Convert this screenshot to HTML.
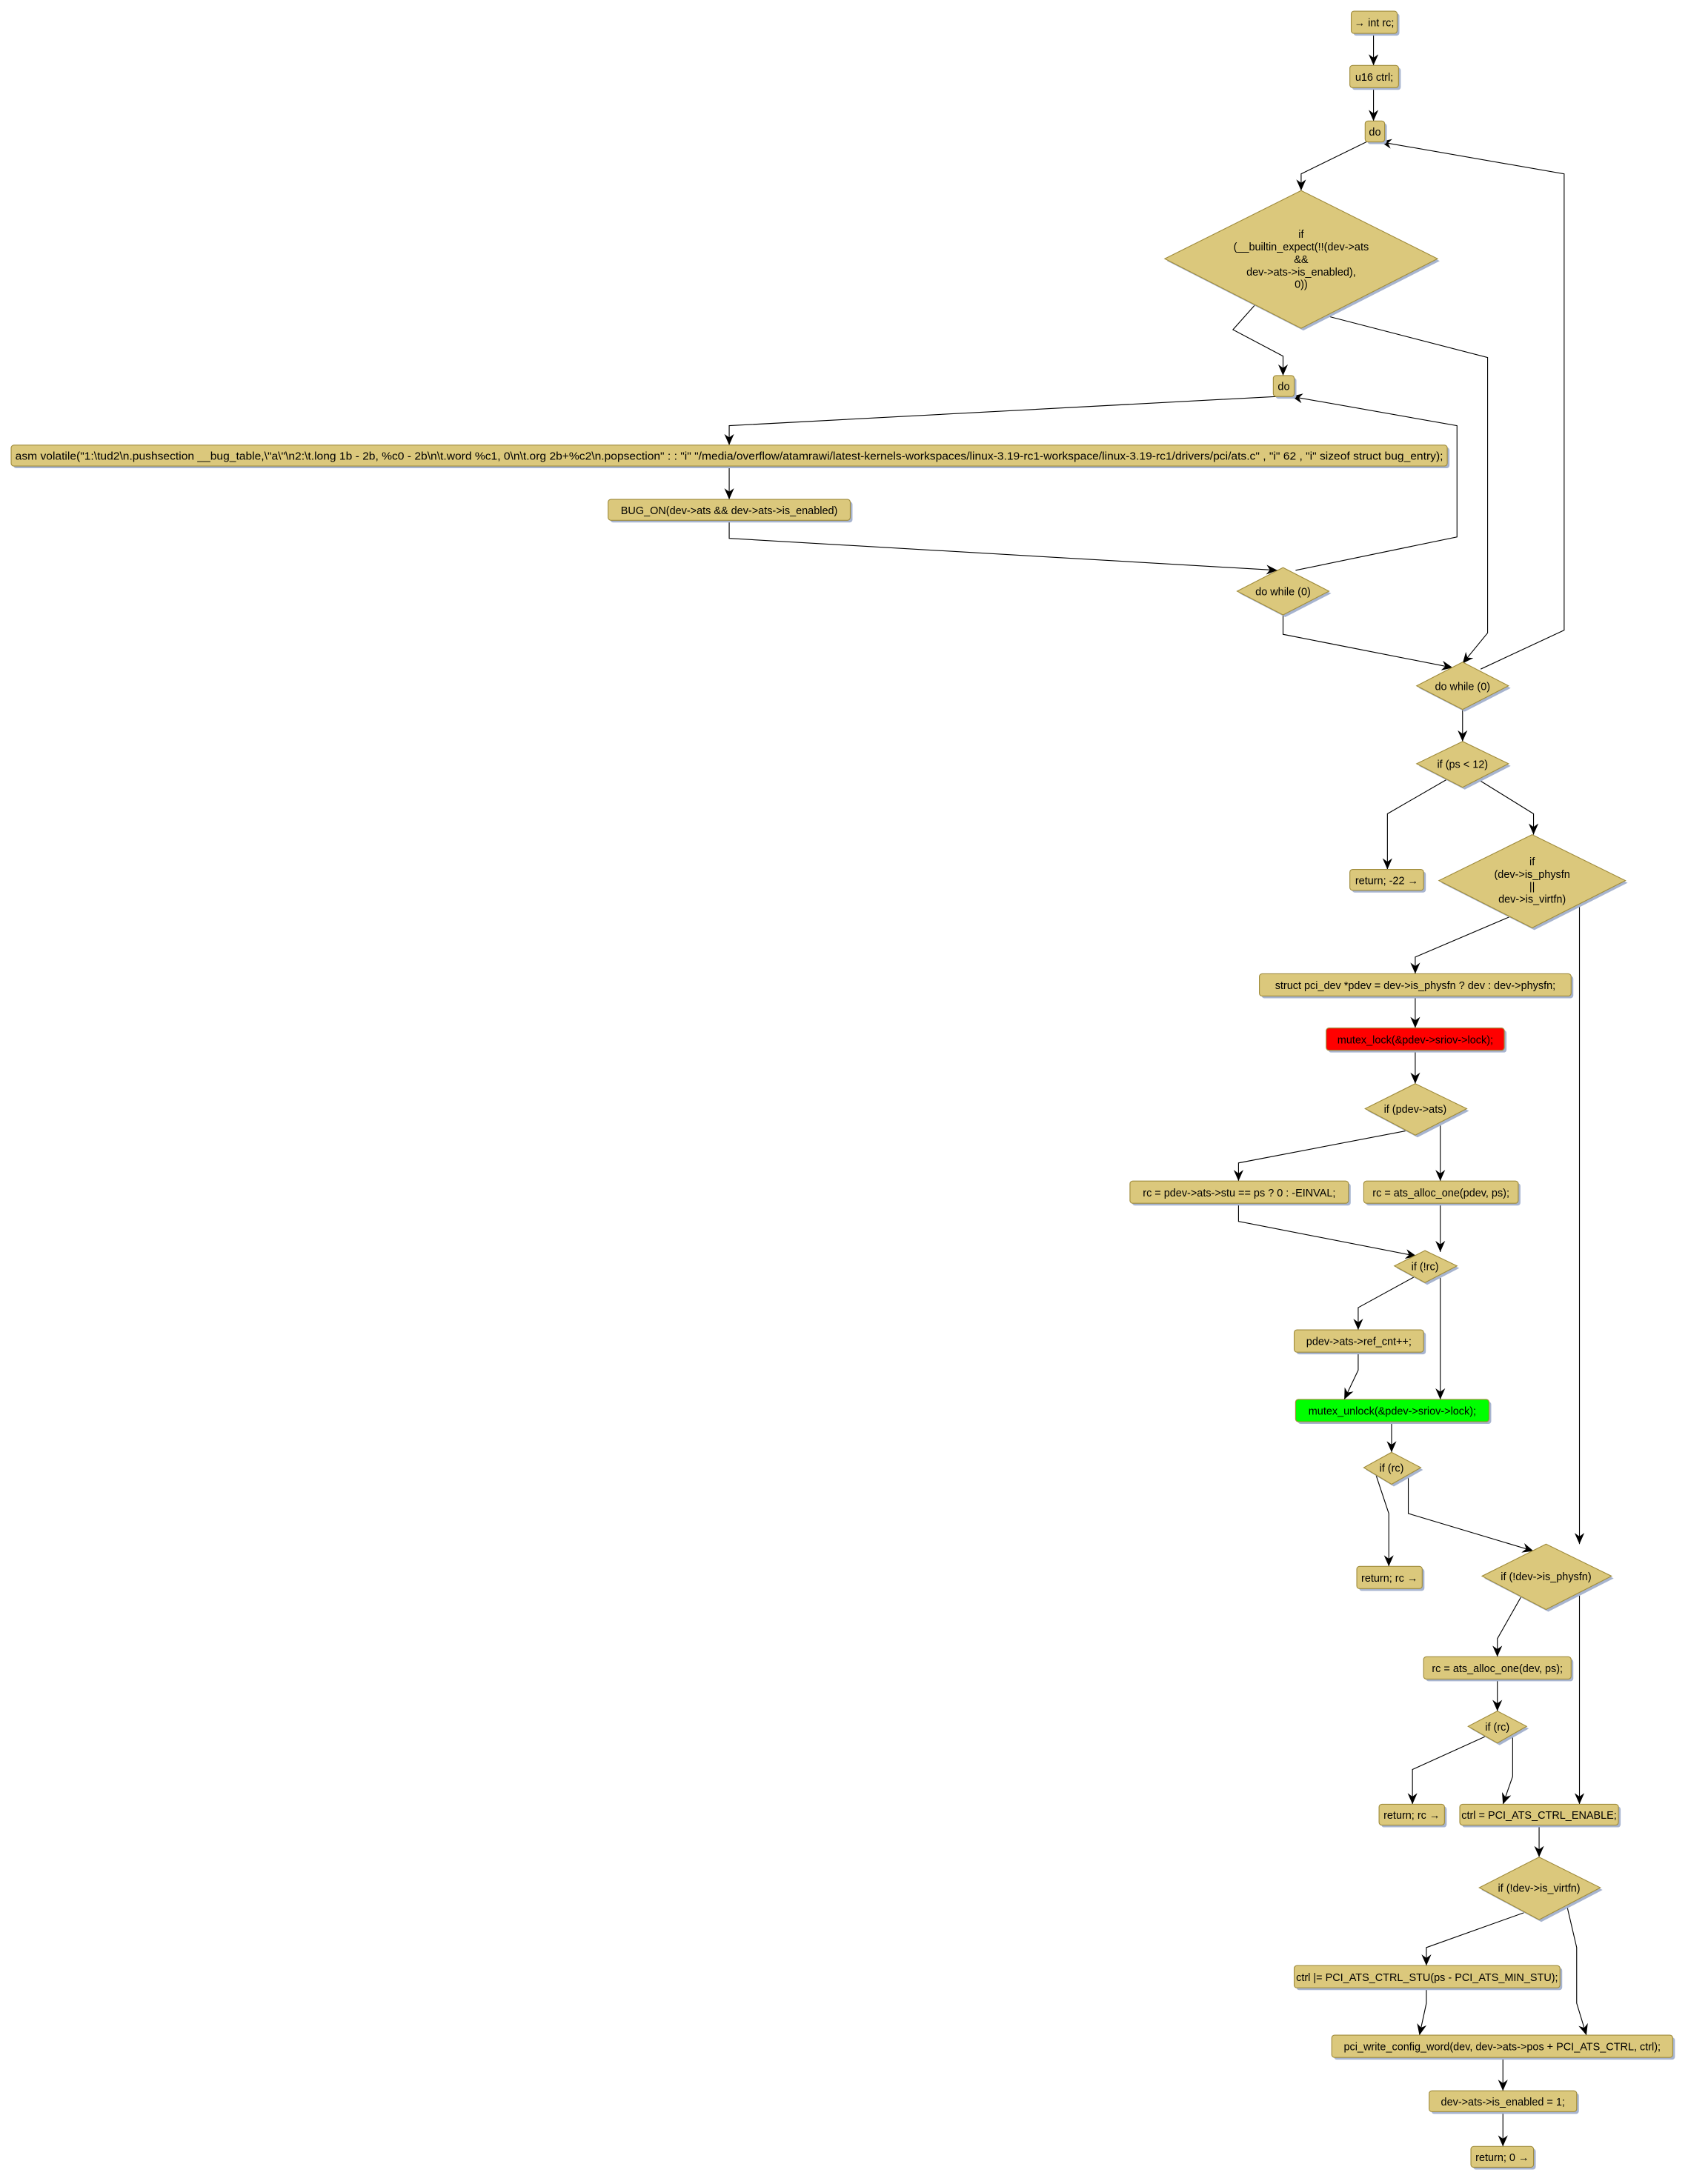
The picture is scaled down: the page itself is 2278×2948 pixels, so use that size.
<!DOCTYPE html>
<html><head><meta charset="utf-8"><style>html,body{margin:0;padding:0;background:#fff}svg{display:block}</style></head><body>
<svg width="2278" height="2948" viewBox="0 0 1213 1570" preserveAspectRatio="none" xmlns="http://www.w3.org/2000/svg" font-family="'Liberation Sans', sans-serif" font-size="7.7">
<defs>
<marker id="a" markerWidth="9" markerHeight="8" refX="8" refY="3.5" orient="auto" markerUnits="userSpaceOnUse"><path d="M0,0 L8,3.5 L0,7 L2.5,3.5 Z" fill="#000"/></marker>
</defs>
<g fill="none" stroke="#000" stroke-width="0.6" marker-end="url(#a)">
<polyline points="987,24 987,47"/>
<polyline points="987,63 987,87"/>
<polyline points="982,102 935,125 935,137"/>
<polyline points="1064,481 1124,453 1124,125 992,102"/>
<polyline points="902,219 886,237 922,256 922,270"/>
<polyline points="953,227 1069,257 1069,455 1051,477"/>
<polyline points="918,285 524,306 524,320"/>
<polyline points="524,335 524,359"/>
<polyline points="524,374 524,387 918,410"/>
<polyline points="931,410 1047,386 1047,306 928,285"/>
<polyline points="922,442 922,456 1044,480"/>
<polyline points="1051,510 1051,533"/>
<polyline points="1042,559 997,585 997,625"/>
<polyline points="1060,559 1102,585 1102,600"/>
<polyline points="1085,659 1017,688 1017,700"/>
<polyline points="1135,650 1135,1110"/>
<polyline points="1017,716 1017,739"/>
<polyline points="1017,755 1017,779"/>
<polyline points="1010,813 890,836 890,849"/>
<polyline points="1035,806 1035,849"/>
<polyline points="890,865 890,878 1018,903"/>
<polyline points="1035,865 1035,900"/>
<polyline points="1018,917 976,940 976,956"/>
<polyline points="1035,915 1035,1006"/>
<polyline points="976,972 976,985 966,1006"/>
<polyline points="1000,1022 1000,1044"/>
<polyline points="988,1058 998,1088 998,1126"/>
<polyline points="1012,1062 1012,1088 1102,1115"/>
<polyline points="1093,1148 1076,1178 1076,1191"/>
<polyline points="1135,1145 1135,1297"/>
<polyline points="1076,1207 1076,1230"/>
<polyline points="1068,1248 1015,1272 1015,1297"/>
<polyline points="1087,1245 1087,1277 1080,1297"/>
<polyline points="1106,1312 1106,1335"/>
<polyline points="1095,1375 1025,1400 1025,1413"/>
<polyline points="1126,1370 1133,1400 1133,1440 1140,1463"/>
<polyline points="1025,1429 1025,1440 1020,1463"/>
<polyline points="1080,1479 1080,1503"/>
<polyline points="1080,1518 1080,1543"/>
</g>
<g fill="#a7b4cf" transform="translate(1.6,1.6)">
<rect x="971" y="8" width="33" height="16" rx="2"/>
<rect x="970" y="47" width="35" height="16" rx="2"/>
<rect x="981" y="87" width="14" height="15" rx="2"/>
<polygon points="935,137 1033,186 935,236 837,186"/>
<rect x="915" y="270" width="15" height="15" rx="2"/>
<rect x="8" y="320" width="1032" height="15" rx="2"/>
<rect x="437" y="359" width="174" height="15" rx="2"/>
<polygon points="922,408 955,425 922,442 889,425"/>
<polygon points="1051,476 1084,493 1051,510 1018,493"/>
<polygon points="1051,533 1084,549 1051,566 1018,549"/>
<rect x="970" y="625" width="53" height="15" rx="2"/>
<polygon points="1101,600 1168,633 1101,667 1034,633"/>
<rect x="905" y="700" width="224" height="16" rx="2"/>
<rect x="953" y="739" width="128" height="16" rx="2"/>
<polygon points="1017,779 1054,797 1017,816 981,797"/>
<rect x="812" y="849" width="157" height="16" rx="2"/>
<rect x="980" y="849" width="111" height="16" rx="2"/>
<polygon points="1024,899 1047,910 1024,922 1002,910"/>
<rect x="930" y="956" width="93" height="16" rx="2"/>
<rect x="931" y="1006" width="139" height="16" rx="2"/>
<polygon points="1000,1044 1021,1055 1000,1067 980,1055"/>
<rect x="975" y="1126" width="47" height="16" rx="2"/>
<polygon points="1111,1110 1158,1133 1111,1157 1065,1133"/>
<rect x="1023" y="1191" width="106" height="16" rx="2"/>
<polygon points="1076,1230 1097,1241 1076,1253 1055,1241"/>
<rect x="991" y="1297" width="47" height="15" rx="2"/>
<rect x="1049" y="1297" width="114" height="15" rx="2"/>
<polygon points="1106,1335 1150,1357 1106,1380 1063,1357"/>
<rect x="930" y="1413" width="191" height="16" rx="2"/>
<rect x="957" y="1463" width="245" height="16" rx="2"/>
<rect x="1027" y="1503" width="106" height="15" rx="2"/>
<rect x="1057" y="1543" width="45" height="15" rx="2"/>
</g>
<g fill="#dbc87c" stroke="#a08c3c" stroke-width="0.6">
<rect x="971" y="8" width="33" height="16" rx="2"/>
<rect x="970" y="47" width="35" height="16" rx="2"/>
<rect x="981" y="87" width="14" height="15" rx="2"/>
<polygon points="935,137 1033,186 935,236 837,186"/>
<rect x="915" y="270" width="15" height="15" rx="2"/>
<rect x="8" y="320" width="1032" height="15" rx="2"/>
<rect x="437" y="359" width="174" height="15" rx="2"/>
<polygon points="922,408 955,425 922,442 889,425"/>
<polygon points="1051,476 1084,493 1051,510 1018,493"/>
<polygon points="1051,533 1084,549 1051,566 1018,549"/>
<rect x="970" y="625" width="53" height="15" rx="2"/>
<polygon points="1101,600 1168,633 1101,667 1034,633"/>
<rect x="905" y="700" width="224" height="16" rx="2"/>
<rect x="953" y="739" width="128" height="16" rx="2" fill="#ff0000"/>
<polygon points="1017,779 1054,797 1017,816 981,797"/>
<rect x="812" y="849" width="157" height="16" rx="2"/>
<rect x="980" y="849" width="111" height="16" rx="2"/>
<polygon points="1024,899 1047,910 1024,922 1002,910"/>
<rect x="930" y="956" width="93" height="16" rx="2"/>
<rect x="931" y="1006" width="139" height="16" rx="2" fill="#00ff00"/>
<polygon points="1000,1044 1021,1055 1000,1067 980,1055"/>
<rect x="975" y="1126" width="47" height="16" rx="2"/>
<polygon points="1111,1110 1158,1133 1111,1157 1065,1133"/>
<rect x="1023" y="1191" width="106" height="16" rx="2"/>
<polygon points="1076,1230 1097,1241 1076,1253 1055,1241"/>
<rect x="991" y="1297" width="47" height="15" rx="2"/>
<rect x="1049" y="1297" width="114" height="15" rx="2"/>
<polygon points="1106,1335 1150,1357 1106,1380 1063,1357"/>
<rect x="930" y="1413" width="191" height="16" rx="2"/>
<rect x="957" y="1463" width="245" height="16" rx="2"/>
<rect x="1027" y="1503" width="106" height="15" rx="2"/>
<rect x="1057" y="1543" width="45" height="15" rx="2"/>
</g>
<g fill="#000" text-anchor="middle">
<text x="987.5" y="19">→ int rc;</text>
<text x="987.5" y="58">u16 ctrl;</text>
<text x="988" y="97.5">do</text>
<text x="935" y="171">if</text>
<text x="935" y="180">(__builtin_expect(!!(dev-&gt;ats</text>
<text x="935" y="189">&amp;&amp;</text>
<text x="935" y="198">dev-&gt;ats-&gt;is_enabled),</text>
<text x="935" y="207">0))</text>
<text x="922.5" y="280.5">do</text>
<text x="524" y="330.5" textLength="1026" lengthAdjust="spacingAndGlyphs">asm volatile("1:\tud2\n.pushsection __bug_table,\"a\"\n2:\t.long 1b - 2b, %c0 - 2b\n\t.word %c1, 0\n\t.org 2b+%c2\n.popsection" : : "i" "/media/overflow/atamrawi/latest-kernels-workspaces/linux-3.19-rc1-workspace/linux-3.19-rc1/drivers/pci/ats.c" , "i" 62 , "i" sizeof struct bug_entry);</text>
<text x="524" y="369.5">BUG_ON(dev-&gt;ats &amp;&amp; dev-&gt;ats-&gt;is_enabled)</text>
<text x="922" y="428">do while (0)</text>
<text x="1051" y="496">do while (0)</text>
<text x="1051" y="552">if (ps &lt; 12)</text>
<text x="996.5" y="635.5">return; -22 →</text>
<text x="1101" y="622">if</text>
<text x="1101" y="631">(dev-&gt;is_physfn</text>
<text x="1101" y="640">||</text>
<text x="1101" y="649">dev-&gt;is_virtfn)</text>
<text x="1017" y="711">struct pci_dev *pdev = dev-&gt;is_physfn ? dev : dev-&gt;physfn;</text>
<text x="1017" y="750">mutex_lock(&amp;pdev-&gt;sriov-&gt;lock);</text>
<text x="1017" y="800">if (pdev-&gt;ats)</text>
<text x="890.5" y="860">rc = pdev-&gt;ats-&gt;stu == ps ? 0 : -EINVAL;</text>
<text x="1035.5" y="860">rc = ats_alloc_one(pdev, ps);</text>
<text x="1024" y="913">if (!rc)</text>
<text x="976.5" y="967">pdev-&gt;ats-&gt;ref_cnt++;</text>
<text x="1000.5" y="1017">mutex_unlock(&amp;pdev-&gt;sriov-&gt;lock);</text>
<text x="1000" y="1058">if (rc)</text>
<text x="998.5" y="1137">return; rc →</text>
<text x="1111" y="1136">if (!dev-&gt;is_physfn)</text>
<text x="1076" y="1202">rc = ats_alloc_one(dev, ps);</text>
<text x="1076" y="1244">if (rc)</text>
<text x="1014.5" y="1307.5">return; rc →</text>
<text x="1106" y="1307.5">ctrl = PCI_ATS_CTRL_ENABLE;</text>
<text x="1106" y="1360">if (!dev-&gt;is_virtfn)</text>
<text x="1025.5" y="1424">ctrl |= PCI_ATS_CTRL_STU(ps - PCI_ATS_MIN_STU);</text>
<text x="1079.5" y="1474">pci_write_config_word(dev, dev-&gt;ats-&gt;pos + PCI_ATS_CTRL, ctrl);</text>
<text x="1080" y="1513.5">dev-&gt;ats-&gt;is_enabled = 1;</text>
<text x="1079.5" y="1553.5">return; 0 →</text>
</g>
</svg>
</body></html>
